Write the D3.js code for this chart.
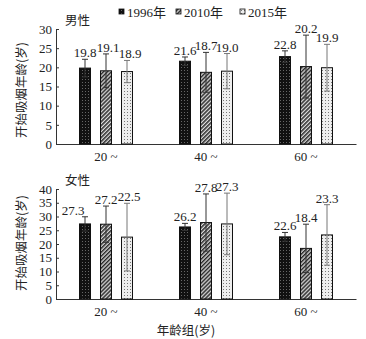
<!DOCTYPE html>
<html><head><meta charset="utf-8">
<script src="https://cdn.jsdelivr.net/npm/d3@7"></script>
<style>
body{margin:0;background:#fff;}
text{font-family:"Liberation Serif","Noto Sans CJK SC",serif;fill:#222;}
</style></head>
<body><svg id="c" width="366" height="339"></svg>
<script>
const groups = ["20 ~", "40 ~", "60 ~"];
const series = ["1996年", "2010年", "2015年"];
const maleValues = [[19.8, 19.1, 18.9], [21.6, 18.7, 19.0], [22.8, 20.2, 19.9]];
const maleErrors = [[2.3, 4.4, 2.9], [1.1, 5.2, 4.6], [1.5, 8.2, 6.1]];
const femaleValues = [[27.3, 27.2, 22.5], [26.2, 27.8, 27.3], [22.6, 18.4, 23.3]];
const femaleErrors = [[2.6, 6.6, 12.3], [1.3, 10.4, 11.2], [1.6, 8.8, 11.0]];
const maleTicks = [0, 5, 10, 15, 20, 25, 30];
const femaleTicks = [0, 5, 10, 15, 20, 25, 30, 35, 40];

// label nudges (style only)
const maleLabelDx = [[0, 2, 3], [0, 0, 0], [0, 0, 0]];
const femaleLabelDx = [[-12, 0, 2], [0, 0, 0], [0, 0, 0]];

const svg = d3.select("#c");
const defs = svg.append("defs");
const p1 = defs.append("pattern").attr("id","p1996").attr("width",3).attr("height",3).attr("patternUnits","userSpaceOnUse");
p1.append("rect").attr("width",3).attr("height",3).attr("fill","#111");
p1.append("rect").attr("x",1).attr("y",1).attr("width",1).attr("height",1).attr("fill","#666");
const p2 = defs.append("pattern").attr("id","p2010").attr("width",2.8).attr("height",2.8).attr("patternUnits","userSpaceOnUse").attr("patternTransform","rotate(45)");
p2.append("rect").attr("width",2.8).attr("height",2.8).attr("fill","#ddd");
p2.append("rect").attr("width",1.5).attr("height",2.8).attr("fill","#2a2a2a");
const p3 = defs.append("pattern").attr("id","p2015").attr("width",3).attr("height",3).attr("patternUnits","userSpaceOnUse");
p3.append("rect").attr("width",3).attr("height",3).attr("fill","#eee");
p3.append("rect").attr("x",1).attr("y",1).attr("width",1).attr("height",1).attr("fill","#777");
const fills = ["url(#p1996)","url(#p2010)","url(#p2015)"];

const x0 = d3.scaleBand().domain(groups).range([56, 356]);
const x1 = d3.scalePoint().domain(series).range([-21, 21]);
const barW = 11;

function panel(values, errors, labelDx, ticks, yMax, top, bottom, title, showXTitle, ylabY) {
  const y = d3.scaleLinear().domain([0, yMax]).range([bottom, top]);
  const g = svg.append("g");
  const ya = g.append("g").attr("transform","translate(56,0)")
    .call(d3.axisLeft(y).tickValues(ticks).tickSize(-3).tickPadding(4).tickFormat(d3.format("d")));
  ya.selectAll("text").style("font-size","13px").attr("fill","#222");
  ya.selectAll("line,path").attr("stroke","#333");
  const xa = g.append("g").attr("transform",`translate(0,${bottom})`)
    .call(d3.axisBottom(x0).tickSize(0).tickPadding(8));
  xa.selectAll("text").style("font-size","13px").attr("fill","#222");
  xa.select("path").attr("stroke","#333");
  groups.forEach((gname, gi) => {
    series.forEach((s, si) => {
      const v = values[gi][si], e = errors[gi][si];
      const cx = x0(gname) + x0.bandwidth()/2 + x1(s);
      g.append("rect").attr("x", cx - barW/2).attr("y", y(v)).attr("width", barW)
        .attr("height", y(0) - y(v)).attr("fill", fills[si]).attr("stroke","#111").attr("stroke-width",1);
      const col = si === 2 ? "#777" : "#333";
      g.append("line").attr("x1",cx).attr("x2",cx).attr("y1",y(v+e)).attr("y2",y(v-e)).attr("stroke",col).attr("stroke-width",1);
      g.append("line").attr("x1",cx-3).attr("x2",cx+3).attr("y1",y(v+e)).attr("y2",y(v+e)).attr("stroke",col).attr("stroke-width",1);
      g.append("line").attr("x1",cx-3).attr("x2",cx+3).attr("y1",y(v-e)).attr("y2",y(v-e)).attr("stroke",col).attr("stroke-width",1);
      g.append("text").attr("x",cx + labelDx[gi][si]).attr("y",y(v+e)-2).attr("text-anchor","middle")
        .style("font-size","13px").text(v.toFixed(1));
    });
  });
  g.append("text").attr("x",65).attr("y",top-4).style("font-size","12.5px")
    .style("font-family","'Noto Sans CJK SC',sans-serif").text(title);
  g.append("text").attr("transform",`translate(26,${ylabY}) rotate(-90)`).attr("text-anchor","middle")
    .style("font-size","12.5px").style("font-family","'Noto Sans CJK SC',sans-serif").text("开始吸烟年龄(岁)");
  if (showXTitle) {
    g.append("text").attr("x",186).attr("y",bottom+36).attr("text-anchor","middle")
      .style("font-size","12.5px").style("font-family","'Noto Sans CJK SC',sans-serif").text("年龄组(岁)");
  }
}

panel(maleValues, maleErrors, maleLabelDx, maleTicks, 30, 29, 144, "男性", false, 90);
panel(femaleValues, femaleErrors, femaleLabelDx, femaleTicks, 40, 189, 299, "女性", true, 243);

const legX = [119, 176, 240];
const leg = svg.append("g");
series.forEach((s, i) => {
  leg.append("rect").attr("x", legX[i]).attr("y", 9).attr("width",5).attr("height",5)
    .attr("fill", fills[i]).attr("stroke","#111").attr("stroke-width",0.8);
  leg.append("text").attr("x", legX[i]+8).attr("y", 16.5).style("font-size","13px").text(s);
});
</script></body></html>
